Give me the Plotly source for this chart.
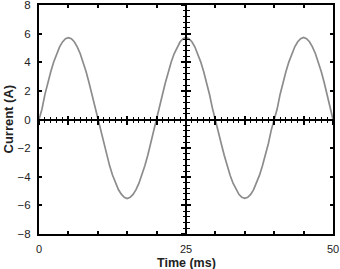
import plotly.graph_objects as go

# Time axis samples (ms), 0.5 ms step
time_ms = [i * 0.5 for i in range(101)]

# Current (A)
current_a = [
    0.00, 0.72, 1.74, 2.58, 3.34, 4.02, 4.60, 5.07, 5.42, 5.64,
    5.72, 5.64, 5.43, 5.08, 4.61, 4.03, 3.35, 2.59, 1.75, 0.80,
    0.00, -0.72, -1.68, -2.49, -3.22, -3.88, -4.44, -4.89, -5.22, -5.43,
    -5.52, -5.44, -5.23, -4.90, -4.45, -3.89, -3.23, -2.50, -1.69, -0.75,
    0.00, 0.74, 1.75, 2.59, 3.35, 4.03, 4.61, 5.08, 5.43, 5.65,
    5.74, 5.65, 5.43, 5.08, 4.61, 4.03, 3.35, 2.59, 1.75, 0.78,
    0.00, -0.73, -1.69, -2.50, -3.23, -3.89, -4.45, -4.90, -5.23, -5.44,
    -5.51, -5.44, -5.23, -4.90, -4.45, -3.89, -3.23, -2.50, -1.69, -0.74,
    0.00, 0.73, 1.75, 2.59, 3.35, 4.03, 4.61, 5.08, 5.43, 5.65,
    5.73, 5.65, 5.43, 5.08, 4.61, 4.03, 3.35, 2.59, 1.75, 0.80,
    0.00,
]

x_tickvals = [0, 25, 50]
y_tickvals = [-8, -6, -4, -2, 0, 2, 4, 6, 8]
x_title = "Time (ms)"
y_title = "Current (A)"

FONT = "Liberation Sans, Arial, sans-serif"

fig = go.Figure()
fig.add_trace(go.Scatter(x=time_ms, y=current_a, mode="lines",
                         line=dict(color="#8c8c8c", width=1.7),
                         showlegend=False, hoverinfo="skip"))
# dummy traces so center axes are drawn
for xa, ya in [("x2", "y"), ("x3", "y"), ("x", "y2"), ("x", "y3")]:
    fig.add_trace(go.Scatter(x=[None], y=[None], xaxis=xa, yaxis=ya,
                             showlegend=False, hoverinfo="skip"))

fig.update_layout(
    width=340, height=269,
    margin=dict(l=39, r=7, t=5, b=35),
    paper_bgcolor="white", plot_bgcolor="white",
    font=dict(family=FONT, size=11.5, color="#222"),
    xaxis=dict(range=[0, 50], showline=True, linecolor="black", linewidth=2,
               mirror="ticks", ticks="inside", tickvals=x_tickvals,
               ticklen=4, tickwidth=1.5, tickcolor="black",
               minor=dict(dtick=5, tick0=0, ticks="inside", ticklen=3,
                          tickwidth=1.5, tickcolor="black"),
               showgrid=False, zeroline=False, ticklabelstandoff=4,
               automargin=False, ticklabeloverflow="allow",
               tickfont=dict(size=11)),
    yaxis=dict(range=[-8, 8], showline=True, linecolor="black", linewidth=2,
               mirror="ticks", ticks="inside", tickvals=y_tickvals,
               ticklen=3, tickwidth=1.5, tickcolor="black",
               showgrid=False, zeroline=False, ticklabelstandoff=4,
               automargin=False, ticklabeloverflow="allow"),
    xaxis2=dict(overlaying="x", anchor="free", position=0.5, range=[0, 50],
                showline=True, linecolor="black", linewidth=2,
                ticks="outside", dtick=5, tick0=0, ticklen=4, tickwidth=1.5,
                tickcolor="black", showticklabels=False, showgrid=False,
                zeroline=False,
                minor=dict(dtick=1, tick0=0, ticks="outside", ticklen=2.5,
                           tickwidth=1.2, tickcolor="black")),
    xaxis3=dict(overlaying="x", anchor="free", position=0.5, range=[0, 50],
                showline=False, ticks="inside", dtick=5, tick0=0, ticklen=4,
                tickwidth=1.5, tickcolor="black", showticklabels=False,
                showgrid=False, zeroline=False,
                minor=dict(dtick=1, tick0=0, ticks="inside", ticklen=2.5,
                           tickwidth=1.2, tickcolor="black")),
    yaxis2=dict(overlaying="y", anchor="free", position=0.5, range=[-8, 8],
                showline=True, linecolor="black", linewidth=2,
                ticks="outside", dtick=2, tick0=0, ticklen=4, tickwidth=1.5,
                tickcolor="black", showticklabels=False, showgrid=False,
                zeroline=False,
                minor=dict(dtick=0.4, tick0=0, ticks="outside", ticklen=2.5,
                           tickwidth=1.2, tickcolor="black")),
    yaxis3=dict(overlaying="y", anchor="free", position=0.5, range=[-8, 8],
                showline=False, ticks="inside", dtick=2, tick0=0, ticklen=4,
                tickwidth=1.5, tickcolor="black", showticklabels=False,
                showgrid=False, zeroline=False,
                minor=dict(dtick=0.4, tick0=0, ticks="inside", ticklen=2.5,
                           tickwidth=1.2, tickcolor="black")),
    annotations=[
        dict(text="<b>" + x_title + "</b>", xref="paper", yref="paper",
             x=0.5, y=0, xanchor="center", yanchor="middle", yshift=-29,
             showarrow=False, font=dict(size=12.5, color="#222")),
        dict(text="<b>" + y_title + "</b>", xref="paper", yref="paper",
             x=0, y=0.5, xanchor="center", yanchor="middle", xshift=-31,
             textangle=-90, showarrow=False,
             font=dict(size=13, color="#222")),
    ],
)

fig.write_html("out.html")
